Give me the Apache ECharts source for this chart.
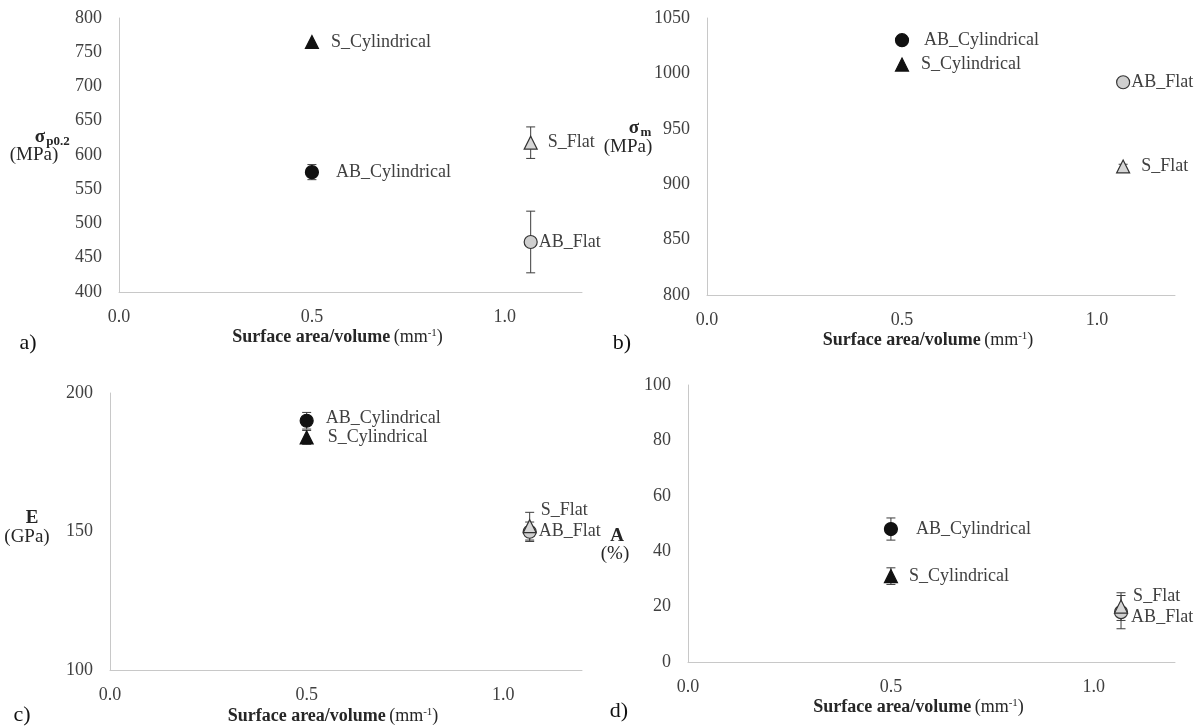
<!DOCTYPE html>
<html>
<head>
<meta charset="utf-8">
<script src="https://cdn.jsdelivr.net/npm/echarts@6/dist/echarts.min.js"></script>
<style>
html,body{margin:0;padding:0;background:#fff;}
#chart{width:1199px;height:726px;}
</style>
</head>
<body>
<div id="chart"></div>
<script>
// ---------------- DATA ----------------
const sampleNames = ['AB_Cylindrical', 'S_Cylindrical', 'AB_Flat', 'S_Flat'];
const surfaceToVolume = [0.5, 0.5, 1.067, 1.067];

const yieldStrength = [575, 765, 473, 618];       // σp0.2 (MPa)
const yieldStrengthErr = [11, 0, 45, 23];
const tensileStrength = [1030, 1008, 992, 916];   // σm (MPa)
const tensileStrengthErr = [0, 0, 3, 2];
const elasticModulus = [190, 184, 150, 152];      // E (GPa)
const elasticModulusErr = [3, 2.5, 3.5, 5];
const elongation = [48, 31, 18, 20];              // A (%)
const elongationErr = [4, 3, 6, 5];

const xTicks = [0.0, 0.5, 1.0];

// ---------------- STYLES ----------------
const FONT = 'Liberation Serif';
const markerStyles = {
  AB_Cylindrical: {symbol: 'circle', size: 13, fill: '#111', stroke: '#111'},
  S_Cylindrical: {symbol: 'triangle', size: 13, fill: '#111', stroke: '#111'},
  AB_Flat: {symbol: 'circle', size: 13, fill: '#cfcfcf', stroke: '#333'},
  S_Flat: {symbol: 'triangle', size: 13, fill: '#d6d6d6', stroke: '#333'}
};

const panels = [
  {values: yieldStrength, errs: yieldStrengthErr, min: 400, max: 800, interval: 50,
   grid: {left: 119, top: 18, width: 463, height: 274},
   labels: {AB_Cylindrical: [17, 0], S_Cylindrical: [12, 0], AB_Flat: [1, 0], S_Flat: [10, 0]}},
  {values: tensileStrength, errs: tensileStrengthErr, min: 800, max: 1050, interval: 50,
   grid: {left: 707, top: 18, width: 468, height: 277},
   labels: {AB_Cylindrical: [15, 0], S_Cylindrical: [12, 0], AB_Flat: [1, 0], S_Flat: [11, 0]}},
  {values: elasticModulus, errs: elasticModulusErr, min: 100, max: 200, interval: 50,
   grid: {left: 110, top: 393, width: 472, height: 279},
   labels: {AB_Cylindrical: [12, -2], S_Cylindrical: [14, 0], AB_Flat: [2, 0], S_Flat: [4, -16]}},
  {values: elongation, errs: elongationErr, min: 0, max: 100, interval: 20,
   grid: {left: 688, top: 385, width: 487, height: 277},
   labels: {AB_Cylindrical: [18, 0], S_Cylindrical: [11, 0], AB_Flat: [3, 5], S_Flat: [5, -10]}}
];

const grids = [], xAxes = [], yAxes = [], series = [];

function errorBarRender(params, api) {
  const x = api.value(0), y = api.value(1), e = api.value(2);
  if (!e) return null;
  const top = api.coord([x, y + e]);
  const bot = api.coord([x, y - e]);
  const cap = 4.5;
  const st = {stroke: '#3c3c3c', lineWidth: 1};
  return {type: 'group', children: [
    {type: 'line', shape: {x1: top[0], y1: top[1], x2: bot[0], y2: bot[1]}, style: st},
    {type: 'line', shape: {x1: top[0] - cap, y1: top[1], x2: top[0] + cap, y2: top[1]}, style: st},
    {type: 'line', shape: {x1: bot[0] - cap, y1: bot[1], x2: bot[0] + cap, y2: bot[1]}, style: st}
  ]};
}

const xName = '{b|Surface area/volume} {n|(mm}{sup|-1}{n|)}';

panels.forEach((p, i) => {
  grids.push(Object.assign({containLabel: false}, p.grid));
  xAxes.push({
    type: 'value', gridIndex: i, min: 0, max: 1.2, interval: 0.5,
    axisLine: {show: true, lineStyle: {color: '#c8c8c8', width: 1}},
    axisTick: {show: false}, splitLine: {show: false},
    axisLabel: {
      fontFamily: FONT, fontSize: 18, color: '#404040', margin: 16,
      formatter: v => xTicks.some(t => Math.abs(t - v) < 1e-6) ? v.toFixed(1) : ''
    },
    name: xName, nameLocation: 'middle', nameGap: 36,
    nameTextStyle: {
      padding: [0, 26, 0, 0],
      rich: {
        b: {fontFamily: FONT, fontSize: 18, fontWeight: 'bold', color: '#262626'},
        n: {fontFamily: FONT, fontSize: 18, color: '#262626'},
        sup: {fontFamily: FONT, fontSize: 11, color: '#262626', verticalAlign: 'top', padding: [0, 0, 8, 0]}
      }
    }
  });
  yAxes.push({
    type: 'value', gridIndex: i, min: p.min, max: p.max, interval: p.interval,
    axisLine: {show: true, lineStyle: {color: '#c8c8c8', width: 1}},
    axisTick: {show: false}, splitLine: {show: false},
    axisLabel: {fontFamily: FONT, fontSize: 18, color: '#404040', margin: 17,
      formatter: v => String(v)}
  });
  // error bars
  series.push({
    type: 'custom', xAxisIndex: i, yAxisIndex: i, z: 2, clip: false,
    renderItem: errorBarRender,
    encode: {x: 0, y: 1},
    data: sampleNames.map((n, k) => [surfaceToVolume[k], p.values[k], p.errs[k]])
  });
  // points
  sampleNames.forEach((n, k) => {
    const ms = markerStyles[n];
    const lo = p.labels[n];
    series.push({
      type: 'scatter', xAxisIndex: i, yAxisIndex: i, z: 3, name: n,
      symbol: ms.symbol, symbolSize: ms.size,
      itemStyle: {color: ms.fill, borderColor: ms.stroke, borderWidth: 1.2, opacity: 1},
      label: {
        show: true, position: 'right', distance: lo[0], offset: [0, lo[1]],
        formatter: n, fontFamily: FONT, fontSize: 18, color: '#404040'
      },
      data: [[surfaceToVolume[k], p.values[k]]]
    });
  });
});

const T = (text, x, y, opts) => Object.assign({
  type: 'text', x: x, y: y,
  style: Object.assign({text: text, fontFamily: FONT, fontSize: 18, fill: '#262626', align: 'center', verticalAlign: 'middle'}, opts || {})
});

const graphics = [
  // panel letters
  T('a)', 28, 343, {fontSize: 22, fill: '#111'}),
  T('b)', 622, 343, {fontSize: 22, fill: '#111'}),
  T('c)', 22, 715, {fontSize: 22, fill: '#111'}),
  T('d)', 619, 711, {fontSize: 22, fill: '#111'}),
  // y titles
  T('σ', 40, 137, {fontWeight: 'bold', fontSize: 19}),
  T('p0.2', 58, 142, {fontWeight: 'bold', fontSize: 13}),
  T('(MPa)', 34, 155, {fontSize: 19}),
  T('σ', 634, 128, {fontWeight: 'bold', fontSize: 19}),
  T('m', 646, 133, {fontWeight: 'bold', fontSize: 13}),
  T('(MPa)', 628, 147, {fontSize: 19}),
  T('E', 32, 518, {fontWeight: 'bold', fontSize: 19}),
  T('(GPa)', 27, 537, {fontSize: 19}),
  T('A', 617, 536, {fontWeight: 'bold', fontSize: 19}),
  T('(%)', 615, 554, {fontSize: 19})
];

const chart = echarts.init(document.getElementById('chart'), null, {renderer: 'canvas'});
chart.setOption({
  animation: false,
  backgroundColor: '#fff',
  grid: grids, xAxis: xAxes, yAxis: yAxes, series: series,
  graphic: graphics
});
</script>
</body>
</html>
